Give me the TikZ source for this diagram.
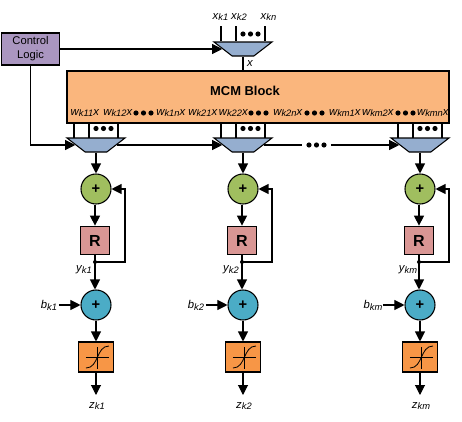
\documentclass[tikz,border=0pt]{standalone}
\usepackage{fontspec}
\setmainfont{Liberation Sans}
\usetikzlibrary{arrows.meta, positioning, calc, shapes.geometric}
\definecolor{ctlpurple}{RGB}{170,150,192}
\definecolor{muxblue}{RGB}{149,174,207}
\definecolor{mcmorange}{RGB}{250,182,125}
\definecolor{accgreen}{RGB}{160,190,95}
\definecolor{regpink}{RGB}{217,150,148}
\definecolor{addblue}{RGB}{75,172,198}
\definecolor{satorange}{RGB}{247,150,70}
\newcommand{\lab}[2]{\textit{#1\raisebox{-0.3ex}{\fontsize{7}{7}\selectfont #2}}}
\newcommand{\wlab}[1]{\lab{w}{#1}\textit{x}}
\tikzset{
  line/.style={line width=0.8pt},
  arr/.style={line, -{Triangle[length=7.5pt,width=7.5pt]}},
  muxbox/.style={draw, line width=0.8pt, fill=muxblue, trapezium, shape border rotate=180,
    trapezium stretches=true, minimum width=43.5pt, minimum height=10.5pt, inner sep=1pt,
    trapezium left angle=50, trapezium right angle=50},
  addnode/.style={draw, line width=0.8pt, circle, minimum size=22.5pt, inner sep=0pt, font=\bfseries\fontsize{11}{11}\selectfont},
  regbox/.style={draw, line width=0.8pt, fill=regpink, minimum size=21.5pt, inner sep=0pt, font=\bfseries\fontsize{12}{12}\selectfont},
  satbox/.style={draw, line width=0.8pt, fill=satorange, minimum width=26pt, minimum height=22.5pt, inner sep=0pt},
  sig/.style={font=\fontsize{8.5}{9}\selectfont, inner sep=0pt},
  dotrow/.pic={\fill (-7.5,0) circle (2.6); \fill (0,0) circle (2.6); \fill (7.5,0) circle (2.6);}
}
\begin{document}
\begin{tikzpicture}[x=0.75pt, y=-0.75pt]
  \useasboundingbox (0,0) rectangle (462,422);
  % Control and top mux
  \node[draw, line width=0.8pt, fill=ctlpurple, minimum width=43.5pt, minimum height=24pt, inner sep=0pt,
    align=center, font=\fontsize{8.4}{10.5}\selectfont] (ctl) at (30.5,49) {Control\\Logic};
  \node[draw, line width=0.8pt, fill=mcmorange, minimum width=286.5pt, minimum height=39pt, inner sep=0pt] (mcm) at (258,97) {};
  \node[muxbox] (muxtop) at (243,49) {};
  \node[sig] (xk1) at (220.5,17) {\lab{x}{k1}};
  \node[sig] (xk2) at (239,17) {\lab{x}{k2}};
  \node[sig] (xkn) at (268.5,17) {\lab{x}{kn}};
  \coordinate (xt1) at (221,26);
  \coordinate (xt2) at (236,26);
  \coordinate (xt3) at (265,26);
  \draw[line] (xt1) -- (xt1 |- muxtop.north);
  \draw[line] (xt2) -- (xt2 |- muxtop.north);
  \draw[line] (xt3) -- (xt3 |- muxtop.north);
  \pic at (250.5,34) {dotrow};
  \draw[line] (muxtop.south) -- (muxtop.south |- mcm.north);
  \node[sig] (xin) at (250,63.5) {\textit{x}};
  \draw[arr] (ctl.east) -- (muxtop.west);
  % MCM outputs
  \node[font=\bfseries\fontsize{9.7}{10}\selectfont, inner sep=0pt] (mcmtitle) at (245,91) {MCM Block};
  \foreach \cx/\txt in {85/k11, 118/k12, 171/k1n, 203/k21, 233.5/k22, 288/k2n, 345/km1, 378/km2, 433/kmn}
    \node[sig] at (\cx,113) {\wlab{\txt}};
  \pic at (143.5,113) {dotrow};
  \pic at (258.5,113) {dotrow};
  \pic at (314.5,113) {dotrow};
  \pic at (405.5,113) {dotrow};
  % Columns
  \foreach \col/\cx/\sub in {a/96/k1, b/243/k2, c/420/km} {
    \node[muxbox] (mux\col) at (\cx,145) {};
    \foreach \n/\dx in {1/-22, 2/-7, 3/22}
      \draw[line] (\cx+\dx,123) -- (\cx+\dx,138);
    \pic at (\cx+7.5,128.5) {dotrow};
    \node[addnode, fill=accgreen] (acc\col) at (\cx,189) {+};
    \node[regbox] (reg\col) at (\cx-1,240.5) {R};
    \coordinate (tap\col) at (\cx-1,262);
    \coordinate (fbk\col) at (\cx+29,262);
    \node[addnode, fill=addblue] (add\col) at (\cx,305) {+};
    \node[satbox] (sat\col) at (\cx,357) {};
    \draw[line width=0.6pt] (\cx-10,357) -- (\cx+13,357);
    \draw[line width=0.6pt] (\cx+1.5,347) -- (\cx+1.5,369);
    \draw[line width=0.6pt] (\cx-10,368) .. controls (\cx+3,368) and (\cx,346) .. (\cx+13,346);
    \node[sig] (y\col) at (\cx-12,270) {\lab{y}{\sub}};
    \node[sig] (b\col) at (\cx-47,305) {\lab{b}{\sub}};
    \coordinate (bin\col) at (\cx-37,305);
    \node[sig] (z\col) at (\cx+1,406) {\lab{z}{\sub}};
    \coordinate (zout\col) at (\cx,395);
    \draw[arr] (mux\col.south) -- (acc\col.north);
    \draw[arr] (acc\col.south -| reg\col.north) -- (reg\col.north);
    \draw[line] (reg\col.south) -- (tap\col);
    \fill (tap\col) circle (2);
    \draw[arr] (tap\col) -- (fbk\col) |- (acc\col.east);
    \draw[arr] (tap\col) -- (tap\col |- add\col.north);
    \draw[arr] (bin\col) -- (add\col.west);
    \draw[arr] (add\col.south) -- (sat\col.north);
    \draw[arr] (sat\col.south) -- (zout\col);
  }
  % Control bus
  \coordinate (gapl) at (302,145);
  \coordinate (gapr) at (331,145);
  \draw[arr] (ctl.south) |- (muxa.west);
  \draw[arr] (muxa.east) -- (muxb.west);
  \draw[line] (muxb.east) -- (gapl);
  \pic at (316.5,145) {dotrow};
  \draw[arr] (gapr) -- (muxc.west);
\end{tikzpicture}
\end{document}
